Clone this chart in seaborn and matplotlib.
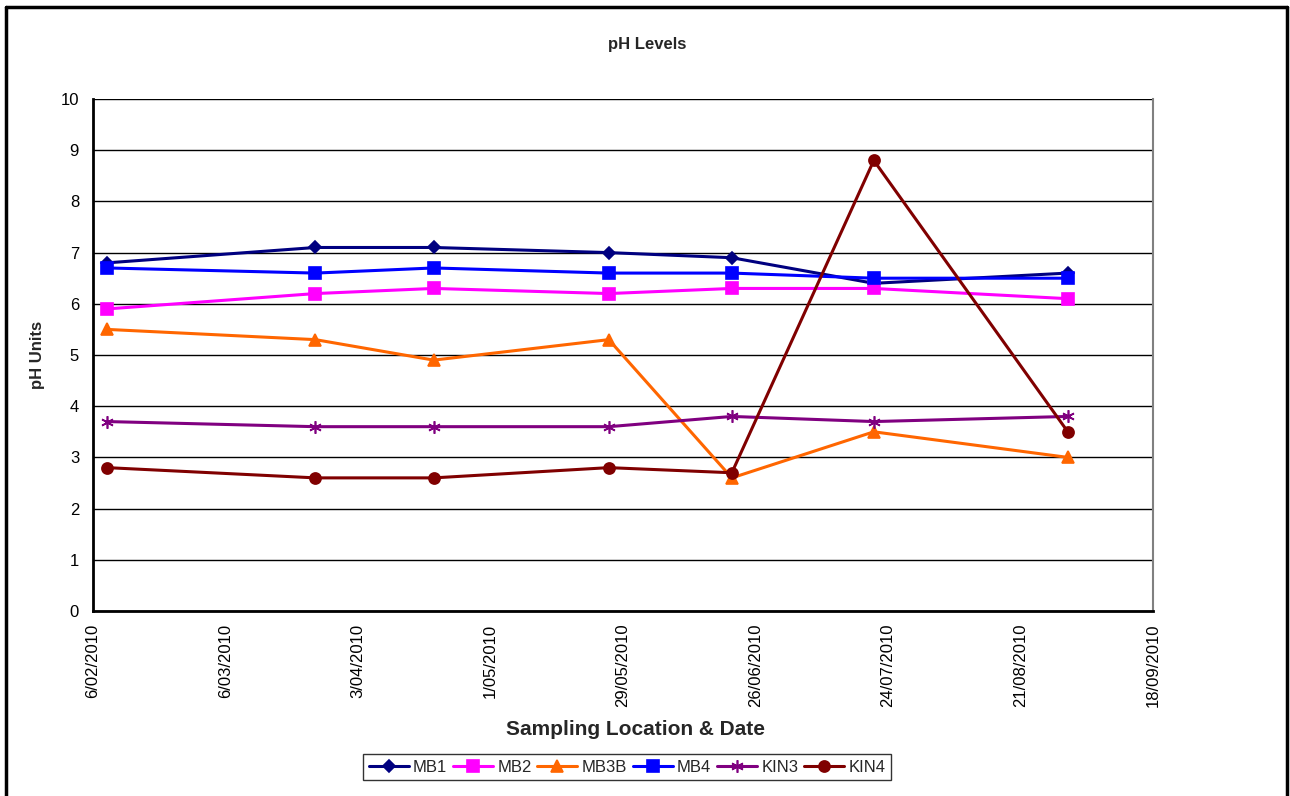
import matplotlib
matplotlib.use("Agg")
import matplotlib.pyplot as plt
import matplotlib.dates as mdates
from matplotlib.ticker import FuncFormatter, MultipleLocator
import numpy as np
import pandas as pd
import seaborn as sns

# Sampling dates and field pH readings per site
sample_dates = ["2010-02-09", "2010-03-25", "2010-04-19", "2010-05-26",
                "2010-06-21", "2010-07-21", "2010-08-31"]
mb1 = [6.8, 7.1, 7.1, 7.0, 6.9, 6.4, 6.6]
mb2 = [5.9, 6.2, 6.3, 6.2, 6.3, 6.3, 6.1]
mb3b = [5.5, 5.3, 4.9, 5.3, 2.6, 3.5, 3.0]
mb4 = [6.7, 6.6, 6.7, 6.6, 6.6, 6.5, 6.5]
kin3 = [3.7, 3.6, 3.6, 3.6, 3.8, 3.7, 3.8]
kin4 = [2.8, 2.6, 2.6, 2.8, 2.7, 8.8, 3.5]

site_names = ["MB1", "MB2", "MB3B", "MB4", "KIN3", "KIN4"]
site_values = [mb1, mb2, mb3b, mb4, kin3, kin4]
site_colors = ["#000080", "#FF00FF", "#FF6600", "#0000FF", "#800080", "#800000"]
site_markers = ["D", "s", "^", "s", (6, 2, 0), "o"]
site_msizes = [6, 8, 8, 8, 9, 8]

axis_start, axis_end = "2010-02-06", "2010-09-18"

sns.set_style("white")
plt.rcParams["font.family"] = ["Liberation Sans", "DejaVu Sans"]

frames = []
for name, vals in zip(site_names, site_values):
    frames.append(pd.DataFrame({"date": pd.to_datetime(sample_dates),
                                "pH": vals, "site": name}))
data = pd.concat(frames, ignore_index=True)

fig = plt.figure(figsize=(12.9, 7.96), dpi=100)
ax = fig.add_axes([93 / 1290, 1 - 611 / 796, (1153 - 93) / 1290, (611 - 99) / 796])

for name, color, marker, ms in zip(site_names, site_colors, site_markers, site_msizes):
    sub = data[data["site"] == name]
    sns.lineplot(data=sub, x="date", y="pH", ax=ax, color=color, marker=marker,
                 markersize=ms, markeredgecolor=color, markeredgewidth=1.2,
                 linewidth=2.2, label=name, sort=False, estimator=None)

# axes ranges and ticks
ax.set_xlim(pd.Timestamp(axis_start), pd.Timestamp(axis_end))
ax.set_ylim(0, 10)
major_x = pd.date_range(axis_start, axis_end, freq="28D")
minor_x = pd.date_range(axis_start, axis_end, freq="7D")
ax.set_xticks(major_x)
ax.set_xticks(minor_x, minor=True)
ax.xaxis.set_major_formatter(FuncFormatter(
    lambda v, pos: (lambda d: f"{d.day}/{d.month:02d}/{d.year}")(mdates.num2date(v))))
ax.yaxis.set_major_locator(MultipleLocator(1))
ax.yaxis.set_minor_locator(MultipleLocator(0.2))

ax.tick_params(axis="x", which="both", direction="out", length=5, width=1.2,
               labelsize=12, rotation=90, pad=4, colors="black")
ax.tick_params(axis="y", which="major", direction="out", length=6, width=1.2,
               labelsize=12, pad=4, colors="black")
ax.tick_params(axis="y", which="minor", direction="out", length=4, width=1.2)

ax.grid(False)
ax.grid(True, axis="y", which="major", color="black", linewidth=1.0)
ax.set_axisbelow(True)

for side in ["left", "bottom"]:
    ax.spines[side].set_color("black")
    ax.spines[side].set_linewidth(2.0)
ax.spines["top"].set_visible(False)
ax.spines["right"].set_color("#808080")
ax.spines["right"].set_linewidth(1.5)

ax.set_xlabel("Sampling Location & Date", fontsize=15, fontweight="bold")
ax.xaxis.set_label_coords((636 - 93) / 1060, -(720 - 611) / 512)
ax.set_ylabel("pH Units", fontsize=12, fontweight="bold")
ax.yaxis.set_label_coords(-(93 - 45) / 1060, 0.5)
fig.text(647 / 1290, 1 - 45 / 796, "pH Levels", ha="center", va="center",
         fontsize=12, fontweight="bold")

leg = ax.legend(loc="center", bbox_to_anchor=(627 / 1290, 1 - 767 / 796),
                bbox_transform=fig.transFigure, ncol=6, fontsize=12, frameon=True,
                fancybox=False, edgecolor="black", handlelength=2.4,
                handletextpad=0.25, columnspacing=0.35, borderpad=0.35,
                borderaxespad=0)
leg.get_frame().set_linewidth(1.0)

# outer chart frame (open at the bottom edge)
fig.add_artist(plt.Line2D([5.5 / 1290, 5.5 / 1290], [0, 1 - 6.5 / 796],
                          transform=fig.transFigure, color="black", linewidth=2.5))
fig.add_artist(plt.Line2D([5.5 / 1290, 1286.5 / 1290], [1 - 6.5 / 796, 1 - 6.5 / 796],
                          transform=fig.transFigure, color="black", linewidth=2.5))
fig.add_artist(plt.Line2D([1286.5 / 1290, 1286.5 / 1290], [0, 1 - 6.5 / 796],
                          transform=fig.transFigure, color="black", linewidth=2.5))

fig.savefig("out.png", dpi=100, facecolor="white")
